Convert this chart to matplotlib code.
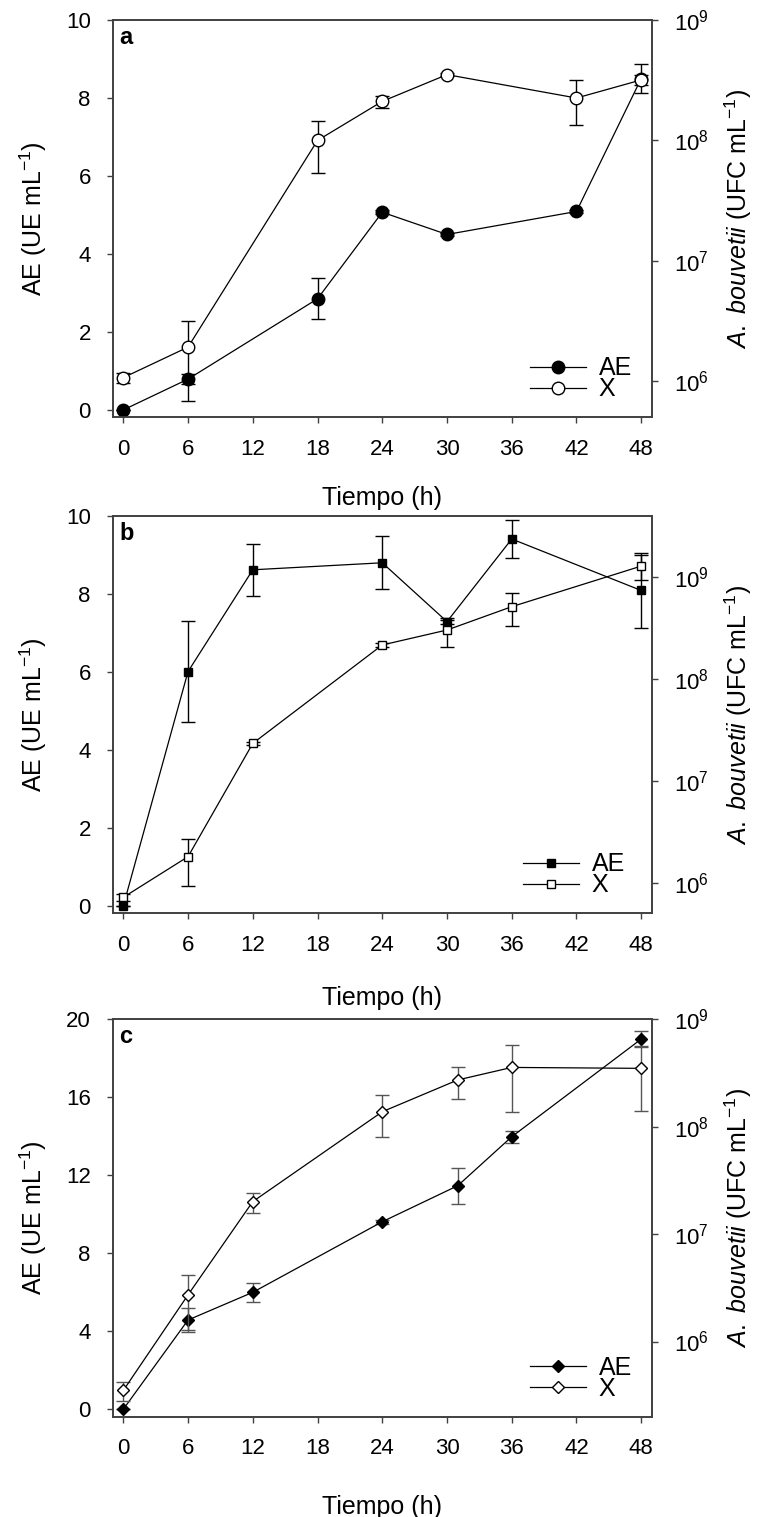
import numpy as np
import matplotlib
matplotlib.use('Agg')
import matplotlib.pyplot as plt
from matplotlib.ticker import FixedLocator, LogFormatterMathtext, NullLocator

plt.rcParams['font.family'] = ['Liberation Sans', 'DejaVu Sans']
plt.rcParams['mathtext.fontset'] = 'custom'
plt.rcParams['mathtext.rm'] = 'Liberation Sans'
plt.rcParams['mathtext.it'] = 'Liberation Sans:italic'
plt.rcParams['mathtext.bf'] = 'Liberation Sans:bold'

# ---------------- data ----------------
# panel a
t_a = [0, 6, 18, 24, 30, 42, 48]
ae_a = [0.0, 0.79, 2.85, 5.07, 4.50, 5.09, 8.50]
ae_a_err = [0.0, 0.13, 0.53, 0.05, 0.05, 0.05, 0.37]
x_a = [1.07e6, 1.92e6, 1.00e8, 2.11e8, 3.52e8, 2.25e8, 3.18e8]
x_a_err = [0.10e6, 1.24e6, 0.46e8, 0.25e8, 0.10e8, 0.90e8, 0.30e8]

# panel b
t_b = [0, 6, 12, 24, 30, 36, 48]
ae_b = [0.0, 6.01, 8.62, 8.80, 7.29, 9.41, 8.09]
ae_b_err = [0.0, 1.30, 0.67, 0.68, 0.05, 0.49, 0.95]
x_b = [7.18e5, 1.80e6, 2.32e7, 2.14e8, 3.00e8, 5.08e8, 1.27e9]
x_b_err = [0.5e5, 0.87e6, 0.1e7, 0.1e8, 0.95e8, 1.8e8, 0.35e9]

# panel c
t_c = [0, 6, 12, 24, 31, 36, 48]
ae_c = [0.0, 4.58, 6.00, 9.62, 11.47, 13.98, 18.99]
ae_c_err = [0.0, 0.60, 0.49, 0.10, 0.93, 0.30, 0.41]
x_c = [3.50e5, 2.72e6, 2.01e7, 1.38e8, 2.73e8, 3.57e8, 3.50e8]
x_c_err = [0.7e5, 1.45e6, 0.43e7, 0.58e8, 0.90e8, 2.20e8, 2.10e8]

x_ticks = [0, 6, 12, 18, 24, 30, 36, 42, 48]
log_ticks = [1e6, 1e7, 1e8, 1e9]

panels = [
    dict(letter='a', t=t_a, ae=ae_a, ae_err=ae_a_err, x=x_a, x_err=x_a_err,
         marker='o', ms=9, ylim=(-0.19, 10), yticks=[0, 2, 4, 6, 8, 10],
         rlim=(10**5.70, 1e9), ecolor='black', bottom=0.7249, xlab=-0.172,
         leg=(0.774, 0.040)),
    dict(letter='b', t=t_b, ae=ae_b, ae_err=ae_b_err, x=x_b, x_err=x_b_err,
         marker='s', ms=6, ylim=(-0.19, 10), yticks=[0, 2, 4, 6, 8, 10],
         rlim=(10**5.70, 10**9.595), ecolor='black', bottom=0.39796, xlab=-0.183,
         leg=(0.761, 0.040)),
    dict(letter='c', t=t_c, ae=ae_c, ae_err=ae_c_err, x=x_c, x_err=x_c_err,
         marker='D', ms=6.6, ylim=(-0.38, 20), yticks=[0, 4, 8, 12, 16, 20],
         rlim=(10**5.30, 1e9), ecolor='#555555', bottom=0.06612, xlab=-0.197,
         leg=(0.774, 0.040)),
]

fig = plt.figure(figsize=(7.67, 15.17), dpi=100)
spine_c = '#404040'

for p in panels:
    ax = fig.add_axes([0.14668, p['bottom'], 0.70339, 0.2619])
    ax2 = ax.twinx()
    ax2.set_yscale('log')

    ax.errorbar(p['t'], p['ae'], yerr=p['ae_err'], fmt='none', ecolor=p['ecolor'],
                elinewidth=1.0, capsize=4.8, capthick=1.0, zorder=2)
    l_ae, = ax.plot(p['t'], p['ae'], color='black', lw=0.9, marker=p['marker'],
                    ms=p['ms'], mfc='black', mec='black', mew=1.0, zorder=3)
    ax2.errorbar(p['t'], p['x'], yerr=p['x_err'], fmt='none', ecolor=p['ecolor'],
                 elinewidth=1.0, capsize=4.8, capthick=1.0, zorder=2)
    l_x, = ax2.plot(p['t'], p['x'], color='black', lw=0.9, marker=p['marker'],
                    ms=p['ms'], mfc='white', mec='black', mew=1.0, zorder=3)

    ax.set_xlim(-1.0, 49.0)
    ax.set_ylim(*p['ylim'])
    ax2.set_ylim(*p['rlim'])
    ax.set_xticks(x_ticks)
    ax.set_yticks(p['yticks'])
    ax2.yaxis.set_major_locator(FixedLocator(log_ticks))
    ax2.yaxis.set_minor_locator(NullLocator())
    ax2.yaxis.set_major_formatter(LogFormatterMathtext())

    for a in (ax, ax2):
        for s in a.spines.values():
            s.set_color(spine_c)
            s.set_linewidth(1.2)
    ax.tick_params(axis='both', direction='out', length=4.6, width=1.0,
                   color=spine_c, pad=11.0, labelsize=16, top=False, right=False)
    ax2.tick_params(axis='y', which='both', direction='out', length=4.6, width=1.0,
                    color=spine_c, pad=11.0, labelsize=16)

    ax.set_ylabel('AE (UE mL$^{-1}$)', fontsize=18, va='center', ha='center')
    ax.yaxis.set_label_coords(-0.147, 0.5)
    ax2.set_ylabel(r'$\mathit{A.\ bouvetii}$ (UFC mL$^{-1}$)', fontsize=18,
                   va='center', ha='center')
    ax2.yaxis.set_label_coords(1.160, 0.5)
    ax.set_xlabel('Tiempo (h)', fontsize=18)
    ax.xaxis.set_label_coords(0.5, p['xlab'])

    ax.text(0.012, 0.94, p['letter'], transform=ax.transAxes, fontsize=17,
            fontweight='bold', va='baseline', ha='left')

    ax2.legend([l_ae, l_x], ['AE', 'X'], loc='lower left', bbox_to_anchor=p['leg'],
               frameon=False, fontsize=18, handlelength=2.25, handletextpad=0.5,
               labelspacing=-0.12, borderpad=0, borderaxespad=0)

fig.savefig('out.png', dpi=100)
